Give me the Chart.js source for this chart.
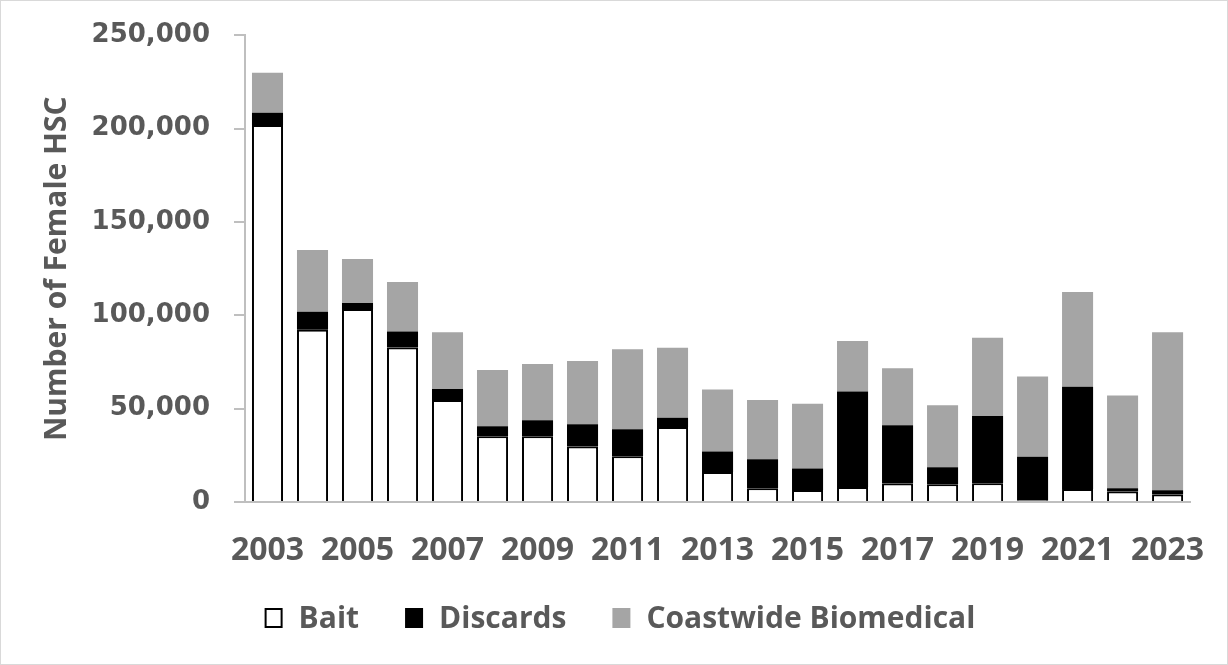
<!DOCTYPE html>
<html>
<head>
<meta charset="utf-8">
<script src="https://cdn.jsdelivr.net/npm/chart.js@4/dist/chart.umd.min.js"></script>
<style>
  html, body { margin: 0; padding: 0; background: #ffffff; }
  #frame { width: 1228px; height: 665px; box-sizing: border-box; border: 1px solid #d9d9d9; position: relative; }
  #c { display: block; }
</style>
</head>
<body>
<div id="frame"><canvas id="c" width="1226" height="663"></canvas></div>
<script>
// Female horseshoe crab removals by source, 2003-2023
const years = ['2003','2004','2005','2006','2007','2008','2009','2010','2011','2012','2013',
               '2014','2015','2016','2017','2018','2019','2020','2021','2022','2023'];
const bait = [202000, 92300, 103400, 82800, 54600, 35200, 35200, 29700, 24500, 40200, 16100,
              7400, 6400, 8000, 9900, 9500, 10000, 800, 7000, 5600, 4000];
const discards = [6500, 9600, 3200, 8600, 6000, 5400, 8600, 12000, 14500, 4900, 10900,
                  15500, 11500, 51200, 31200, 9100, 36100, 23500, 54700, 1800, 2300];
const biomedical = [21500, 33100, 23600, 26500, 30400, 30100, 30200, 33900, 42900, 37500, 33300,
                    31800, 34700, 27000, 30500, 33300, 41900, 42900, 50800, 49700, 84600];
const yTicks = [0, 50000, 100000, 150000, 200000, 250000];

const textColor = '#595959';
const axisColor = '#bfbfbf';
const legendFont = 'bold 30px "Open Sans", sans-serif';

// Legend row under the x axis: square swatch, then the series name
const bottomLegend = {
  id: 'bottomLegend',
  afterDraw(chart) {
    const ctx = chart.ctx;
    const box = { w: 18, h: 20 }, textGap = 16, itemGap = 46;
    const cx = 619, cy = 617;
    ctx.save();
    ctx.font = legendFont;
    ctx.textBaseline = 'middle';
    ctx.textAlign = 'left';
    const items = chart.data.datasets.map(ds => ({
      label: ds.label, fill: ds.backgroundColor, stroke: ds.borderColor, bw: ds.borderWidth,
      tw: ctx.measureText(ds.label).width
    }));
    const total = items.reduce((s, it) => s + box.w + textGap + it.tw, 0) + itemGap * (items.length - 1);
    let x = cx - total / 2;
    items.forEach(it => {
      ctx.fillStyle = it.fill;
      ctx.fillRect(x, cy - box.h / 2, box.w, box.h);
      if (it.bw > 0) {
        ctx.lineWidth = it.bw;
        ctx.strokeStyle = it.stroke;
        ctx.strokeRect(x + it.bw / 2, cy - box.h / 2 + it.bw / 2, box.w - it.bw, box.h - it.bw);
      }
      x += box.w + textGap;
      ctx.fillStyle = textColor;
      ctx.fillText(it.label, x, cy + 1);
      x += it.tw + itemGap;
    });
    ctx.restore();
  }
};

new Chart(document.getElementById('c'), {
  type: 'bar',
  data: {
    labels: years,
    datasets: [
      { label: 'Bait', data: bait, backgroundColor: '#ffffff', borderColor: '#000000', borderWidth: 2 },
      { label: 'Discards', data: discards, backgroundColor: '#000000', borderColor: '#000000', borderWidth: 0 },
      { label: 'Coastwide Biomedical', data: biomedical, backgroundColor: '#a5a5a5', borderColor: '#a5a5a5', borderWidth: 0 }
    ]
  },
  plugins: [bottomLegend],
  options: {
    responsive: false,
    animation: false,
    datasets: { bar: { barPercentage: 0.69, categoryPercentage: 1.0 } },
    layout: { padding: { top: 20, right: 35, bottom: 95, left: 0 } },
    plugins: {
      tooltip: { enabled: false },
      legend: { display: false }
    },
    scales: {
      x: {
        stacked: true,
        grid: { display: false },
        border: { display: true, color: axisColor, width: 2 },
        ticks: {
          autoSkip: false,
          maxRotation: 0,
          padding: 22,
          color: textColor,
          font: { family: '"Open Sans", sans-serif', size: 32, weight: 'bold' },
          callback: function (v, i) { return i % 2 === 0 ? years[i] : ''; }
        },
        afterFit: function (s) { s.height = 67; }
      },
      y: {
        stacked: true,
        min: 0,
        max: 250000,
        afterBuildTicks: function (s) { s.ticks = yTicks.map(v => ({ value: v })); },
        grid: { drawOnChartArea: false, drawTicks: true, tickLength: 11, color: axisColor, lineWidth: 2 },
        border: { display: true, color: axisColor, width: 2 },
        ticks: {
          padding: 24,
          color: textColor,
          font: { family: '"DejaVu Sans", sans-serif', size: 26, weight: 'bold', lineHeight: 0.8 },
          callback: function (v) { return v.toLocaleString('en-US'); }
        },
        title: {
          display: true,
          text: 'Number of Female HSC',
          color: textColor,
          padding: { top: 38, bottom: 0 },
          font: { family: '"Open Sans", sans-serif', size: 30, weight: 'bold' }
        },
        afterFit: function (s) { s.width = 244; }
      }
    }
  }
});
</script>
</body>
</html>
